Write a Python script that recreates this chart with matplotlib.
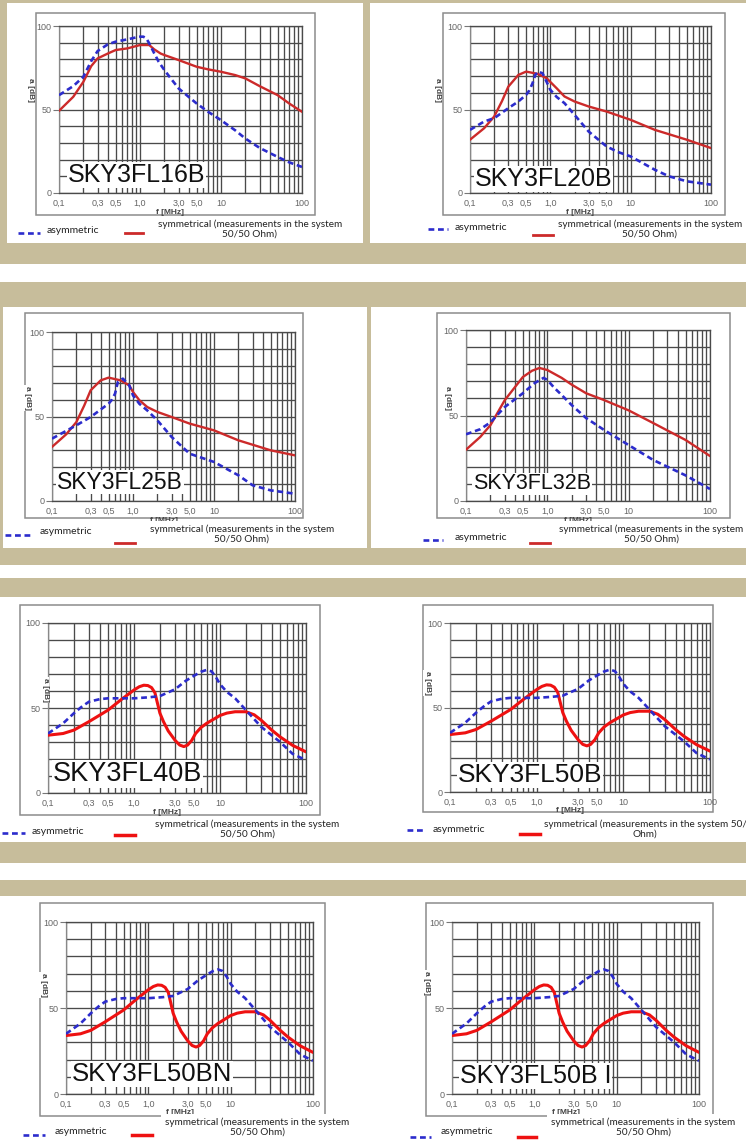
import matplotlib
matplotlib.use("Agg")
import matplotlib.pyplot as plt
from matplotlib.patches import Rectangle
from matplotlib.lines import Line2D
from matplotlib.ticker import FixedLocator, FixedFormatter, LogLocator, MultipleLocator, NullFormatter

# ---------------- data ----------------
x_ticks = [0.1, 0.3, 0.5, 1.0, 3.0, 5.0, 10, 100]
x_tick_labels = ["0,1", "0,3", "0,5", "1,0", "3,0", "5,0", "10", "100"]
y_ticks = [0, 50, 100]
y_tick_labels = ["0", "50", "100"]

titles = ["SKY3FL16B", "SKY3FL20B", "SKY3FL25B", "SKY3FL32B",
          "SKY3FL40B", "SKY3FL50B", "SKY3FL50BN", "SKY3FL50B I"]

# SKY3FL16B
asym16_f = [0.1, 0.15, 0.2, 0.25, 0.3, 0.4, 0.5, 0.7, 0.9, 1.0, 1.1, 1.2, 1.3, 1.5, 1.7, 2, 2.5, 3, 4, 5, 7, 10, 15, 20, 30, 50, 70, 100]
asym16_a = [58.6, 64, 69.6, 79, 85, 89, 90.6, 92, 93.2, 93.6, 93.6, 92.5, 89.6, 83.6, 78.6, 73.6, 67.5, 62.6, 57.5, 53.6, 48.5, 43.6, 37.5, 32.6, 27, 21.6, 18.3, 15.6]
sym16_f = [0.1, 0.15, 0.2, 0.25, 0.3, 0.4, 0.5, 0.7, 1.0, 1.3, 1.5, 1.8, 2, 3, 5, 7, 10, 15, 20, 30, 50, 70, 100]
sym16_a = [49.2, 57.6, 66.6, 76, 80.6, 83.5, 85.6, 86.6, 88.6, 88.6, 86, 83.5, 82.6, 79.6, 75.6, 74, 72.6, 70.6, 68.6, 64, 58.6, 53.5, 48.6]

# SKY3FL20B
asym20_f = [0.1, 0.15, 0.2, 0.3, 0.4, 0.5, 0.55, 0.6, 0.65, 0.7, 0.8, 0.9, 1.0, 1.2, 1.5, 2, 3, 5, 7, 10, 20, 30, 50, 100]
asym20_a = [37.8, 42.8, 44.8, 50.8, 54.8, 58.8, 61.5, 65.7, 70.7, 72.7, 71.7, 66.5, 61.8, 57.5, 53.8, 46.8, 36.8, 27.9, 24.5, 21.9, 13.9, 10, 7, 5]
sym20_f = [0.1, 0.15, 0.2, 0.25, 0.3, 0.4, 0.5, 0.7, 0.9, 1.0, 1.2, 1.5, 2, 3, 5, 10, 20, 50, 100]
sym20_a = [31.9, 38.8, 45.8, 55, 63.7, 70.7, 72.7, 71.3, 68.7, 66.5, 62.7, 57.8, 54.8, 51.8, 48.8, 43.8, 37.8, 31.9, 26.9]

# SKY3FL25B
asym25_f = [0.1, 0.2, 0.3, 0.5, 0.55, 0.6, 0.65, 0.75, 0.9, 1.0, 1.2, 1.5, 2, 3, 5, 10, 20, 30, 50, 100]
asym25_a = [36.9, 44.8, 49.7, 57.6, 60, 63.5, 70.4, 72.4, 68.4, 62.5, 57.5, 53.6, 47.7, 37.9, 28, 23.1, 15.2, 9.3, 6.3, 4.3]
sym25_f = [0.1, 0.15, 0.2, 0.25, 0.3, 0.4, 0.5, 0.7, 0.9, 1.0, 1.2, 1.5, 2, 3, 5, 10, 20, 50, 100]
sym25_a = [32, 39.5, 46.7, 56.5, 65.5, 71.4, 73, 71.4, 68.4, 64.5, 59.6, 55.6, 52.7, 49.7, 45.8, 41.8, 35.9, 30, 27]

# SKY3FL32B
asym32_f = [0.1, 0.15, 0.2, 0.3, 0.5, 0.7, 0.9, 1.0, 1.2, 1.5, 2, 3, 5, 10, 20, 50, 100]
asym32_a = [39, 42, 46, 55, 63, 69, 72, 70.8, 66.5, 62, 56, 48.5, 41.5, 32.7, 24, 15, 7]
sym32_f = [0.1, 0.15, 0.2, 0.3, 0.5, 0.65, 0.8, 1.0, 1.5, 2, 3, 5, 10, 20, 50, 100]
sym32_a = [30, 37.5, 44.4, 59, 72.5, 76.2, 77.8, 76.6, 72, 68, 63, 59, 53, 45.6, 35.7, 26.3]

# SKY3FL40B / 50B / 50BN / 50B I
asym40_f = [0.1, 0.15, 0.2, 0.25, 0.3, 0.4, 0.5, 1.0, 1.5, 2, 3, 4, 5, 6, 7, 8, 9, 10, 12, 15, 20, 30, 50, 70, 100]
asym40_a = [35, 41, 46.9, 51, 53.7, 55.2, 55.7, 55.7, 56.3, 57, 61, 66, 69, 71.3, 72.4, 71.5, 68, 64, 59.5, 55.7, 48.8, 39, 30, 23, 19.3]
sym40_f = [0.1, 0.15, 0.2, 0.3, 0.5, 0.7, 1.0, 1.15, 1.3, 1.45, 1.6, 1.75, 1.85, 2.0, 2.2, 2.5, 3.0, 3.4, 3.8, 4.2, 4.7, 5.2, 6, 7, 8.5, 10, 12, 15, 20, 25, 30, 40, 50, 70, 100]
sym40_a = [34, 35, 37, 42, 48.8, 54.7, 60.6, 62.5, 63.4, 63.2, 62, 59, 54, 47, 42, 36.5, 31, 28.2, 27.3, 28.2, 31, 35, 38.5, 41, 43.5, 45.6, 47, 47.8, 47.8, 46, 42.9, 37, 33, 28, 24.2]

asym_sets = [(asym16_f, asym16_a), (asym20_f, asym20_a), (asym25_f, asym25_a), (asym32_f, asym32_a),
             (asym40_f, asym40_a), (asym40_f, asym40_a), (asym40_f, asym40_a), (asym40_f, asym40_a)]
sym_sets = [(sym16_f, sym16_a), (sym20_f, sym20_a), (sym25_f, sym25_a), (sym32_f, sym32_a),
            (sym40_f, sym40_a), (sym40_f, sym40_a), (sym40_f, sym40_a), (sym40_f, sym40_a)]

leg_asym = "asymmetric"
leg_sym = ["symmetrical (measurements in the system\n50/50 Ohm)"] * 5 + \
          ["symmetrical (measurements in the system 50/\nOhm)"] + \
          ["symmetrical (measurements in the system\n50/50 Ohm)"] * 2

# ---------------- layout (pixels) ----------------
W, H = 746, 1141
TAN = "#c7bd9b"
GRID = "#4a4a4a"

def fx(x):
    return x / W

def fy(y):
    return 1 - y / H

# axes box: x at 0.1, x at 100, y at 100 dB, y at 0 dB
ax_px = [(59, 302, 26, 193), (470, 711, 26, 193),
         (52, 295, 332, 501), (466, 710, 330, 501),
         (48, 306, 623, 793), (450, 710, 623, 792),
         (66, 313, 922, 1094), (452, 699, 922, 1094)]
frame_px = [(36, 13, 315, 215), (443, 13, 725, 215),
            (25, 313, 303, 518), (437, 313, 730, 518),
            (20, 605, 320, 815), (423, 605, 713, 812),
            (40, 903, 325, 1116), (426, 903, 713, 1116)]
title_px = [(68, 175, 18), (475, 179, 18), (57, 482, 16.5), (473, 484, 15.5),
            (53, 774, 19.5), (458, 775, 19), (72, 1074, 18.5), (460, 1076, 18)]
ylab_px = [(30, 90), (438, 90), (27, 398), (448, 398),
           (45, 690), (427, 683), (43, 985), (426, 983)]
# legend: blue x0,x1,y ; text x,y ; red x0,x1,y ; sym text cx, cy
leg_px = [
    ((18, 40, 233), (47, 231), (125, 143, 233), (250, 229)),
    ((428, 448, 229), (455, 228), (533, 553, 235), (650, 229)),
    ((5, 30, 535), (40, 531), (115, 135, 543), (242, 534)),
    ((423, 443, 540), (455, 538), (530, 550, 543), (651, 534)),
    ((2, 25, 833), (32, 832), (115, 135, 835), (247, 829)),
    ((407, 425, 830), (433, 829), (520, 540, 834), (645, 829)),
    ((23, 45, 1135), (55, 1132), (132, 152, 1135), (257, 1127)),
    ((410, 431, 1137), (441, 1132), (518, 536, 1137), (643, 1127)),
]
red_cols = ["#cc2a2a"] * 4 + ["#ee1111"] * 4
red_lw = [1.7] * 4 + [2.2] * 4
blue_col = "#2c2ccc"

fig = plt.figure(figsize=(W / 100, H / 100), dpi=100)
fig.patch.set_facecolor("white")

def bg_rect(x0, y0, x1, y1, color):
    fig.add_artist(Rectangle((fx(x0), fy(y1)), (x1 - x0) / W, (y1 - y0) / H,
                             transform=fig.transFigure, facecolor=color,
                             edgecolor="none", zorder=-20))

# background bands
bg_rect(0, 0, 746, 264, TAN)
bg_rect(7, 3, 363, 243, "white")
bg_rect(370, 3, 746, 243, "white")
bg_rect(0, 282, 746, 565, TAN)
bg_rect(3, 307, 367, 548, "white")
bg_rect(371, 307, 746, 548, "white")
bg_rect(0, 578, 746, 597, TAN)
bg_rect(0, 842, 746, 863, TAN)
bg_rect(0, 880, 746, 896, TAN)

LEG_FONT = ["Lato", "DejaVu Sans"]
AX_FONT = ["Liberation Sans", "DejaVu Sans"]

for i in range(8):
    x0, x1, yt, yb = ax_px[i]
    # frame
    l, t, r, b = frame_px[i]
    fig.add_artist(Rectangle((fx(l), fy(b)), (r - l) / W, (b - t) / H,
                             transform=fig.transFigure, fill=False,
                             edgecolor="#8c8c8c", lw=1.1, zorder=-5))
    ax = fig.add_axes([fx(x0), fy(yb), (x1 - x0) / W, (yb - yt) / H])
    ax.set_facecolor("white")
    ax.set_xscale("log")
    ax.set_xlim(0.1, 100)
    ax.set_ylim(0, 100)
    ax.xaxis.set_major_locator(FixedLocator(x_ticks))
    ax.xaxis.set_major_formatter(FixedFormatter(x_tick_labels))
    ax.xaxis.set_minor_locator(LogLocator(base=10, subs=[1, 2, 3, 4, 5, 6, 7, 8, 9], numticks=20))
    ax.xaxis.set_minor_formatter(NullFormatter())
    ax.yaxis.set_major_locator(FixedLocator(y_ticks))
    ax.yaxis.set_major_formatter(FixedFormatter(y_tick_labels))
    ax.yaxis.set_minor_locator(MultipleLocator(10))
    ax.grid(True, which="both", color=GRID, lw=0.95)
    ax.tick_params(which="major", length=4, width=0.8, color="#777777", labelcolor="#666666",
                   labelsize=6.5, pad=1.5)
    ax.tick_params(which="minor", length=0, width=0, bottom=False, left=False)
    ax.tick_params(axis="x", which="major", length=0, pad=4)
    for lab in ax.get_xticklabels() + ax.get_yticklabels():
        lab.set_family(AX_FONT)
    for s in ["top", "right", "bottom"]:
        ax.spines[s].set_color(GRID)
        ax.spines[s].set_linewidth(0.95)
    ax.spines["left"].set_color("#888888")
    ax.spines["left"].set_linewidth(0.9)
    ax.set_axisbelow(True)

    af, aa = asym_sets[i]
    sf, sa = sym_sets[i]
    ax.plot(sf, sa, color=red_cols[i], lw=red_lw[i], solid_capstyle="round",
            solid_joinstyle="round", zorder=3)
    ax.plot(af, aa, color=blue_col, lw=1.9, dashes=(2.2, 1.4), zorder=4)

    # title
    tx, ty, ts = title_px[i]
    fig.text(fx(tx), fy(ty), titles[i], fontsize=ts, family=AX_FONT, color="#111111",
             ha="left", va="center", zorder=5,
             bbox=dict(facecolor="white", edgecolor="none", pad=0.5))
    # y label
    yx, yy = ylab_px[i]
    fig.text(fx(yx), fy(yy), "a [dB]", fontsize=6, family=AX_FONT, fontweight="bold",
             color="#444444", rotation=270, ha="center", va="center", zorder=5,
             bbox=dict(facecolor="white", edgecolor="none", pad=0.5))
    # x label (mostly hidden by legend text)
    fig.text(fx((x0 + x1) / 2 - 10), fy(yb + 19), "f [MHz]", fontsize=6, family=AX_FONT,
             fontweight="bold", color="#444444", ha="center", va="center", zorder=4)

    (bx0, bx1, by), (atx, aty), (rx0, rx1, ry), (scx, scy) = leg_px[i]
    fig.add_artist(Line2D([fx(bx0), fx(bx1)], [fy(by), fy(by)], transform=fig.transFigure,
                          color=blue_col, lw=1.9, dashes=(2.2, 1.4), zorder=7))
    fig.add_artist(Line2D([fx(rx0), fx(rx1)], [fy(ry), fy(ry)], transform=fig.transFigure,
                          color=red_cols[i], lw=red_lw[i] + 0.3, zorder=7))
    fig.text(fx(atx), fy(aty), leg_asym, fontsize=7.5, family=LEG_FONT, color="#222222",
             ha="left", va="center", zorder=7)
    fig.text(fx(scx), fy(scy), leg_sym[i], fontsize=7.2, family=LEG_FONT, color="#222222",
             ha="center", va="center", multialignment="center", linespacing=1.15, zorder=6,
             bbox=dict(facecolor="white", edgecolor="none", pad=2.5))

fig.savefig("out.png", dpi=100)
